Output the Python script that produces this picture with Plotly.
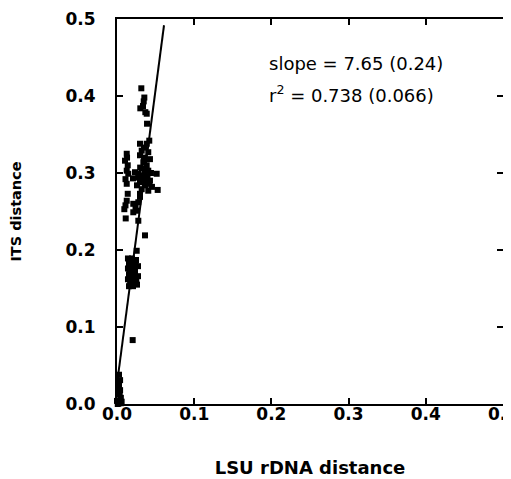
import plotly.graph_objects as go

# LSU rDNA distance (x) and ITS distance (y) for each pairwise comparison
lsu = [
    0.0315, 0.0354, 0.0346, 0.0337, 0.0302, 0.0367, 0.0385, 0.0389, 0.0418,
    0.0126, 0.0104, 0.0139, 0.0126, 0.0146, 0.0126, 0.0139, 0.0110, 0.0130,
    0.0298, 0.0385, 0.0320, 0.0405, 0.0298, 0.0427, 0.0341, 0.0385, 0.0405,
    0.0233, 0.0276, 0.0341, 0.0385, 0.0298, 0.0363, 0.0320, 0.0298, 0.0405,
    0.0514, 0.0527, 0.0350, 0.0324, 0.0427, 0.0259, 0.0440, 0.0207, 0.0453,
    0.0310, 0.0360, 0.0395, 0.0330, 0.0280, 0.0370, 0.0350, 0.0415, 0.0300,
    0.0126, 0.0095, 0.0113, 0.0211, 0.0276, 0.0298, 0.0255, 0.0211, 0.0276,
    0.0363, 0.0255, 0.0110, 0.0240,
    0.0142, 0.0194, 0.0246, 0.0155, 0.0220, 0.0272, 0.0142, 0.0181, 0.0233,
    0.0155, 0.0207, 0.0272, 0.0142, 0.0181, 0.0233, 0.0155, 0.0207, 0.0259,
    0.0168, 0.0200, 0.0240, 0.0160, 0.0210, 0.0250, 0.0170, 0.0220,
    0.0203,
    0.0026, 0.0040, 0.0026, 0.0040, 0.0013, 0.0050, 0.0000, 0.0026, 0.0050,
    0.0010, 0.0060, 0.0035, 0.0015,
]
its = [
    0.410, 0.398, 0.393, 0.387, 0.384, 0.379, 0.377, 0.364, 0.342,
    0.325, 0.316, 0.310, 0.303, 0.299, 0.286, 0.273, 0.292, 0.320,
    0.338, 0.338, 0.329, 0.327, 0.323, 0.318, 0.314, 0.310, 0.303,
    0.301, 0.299, 0.297, 0.292, 0.288, 0.286, 0.279, 0.273, 0.277,
    0.299, 0.278, 0.333, 0.306, 0.290, 0.284, 0.300, 0.293, 0.282,
    0.295, 0.302, 0.296, 0.291, 0.294, 0.284, 0.320, 0.286, 0.307,
    0.264, 0.253, 0.241, 0.260, 0.262, 0.269, 0.251, 0.249, 0.238,
    0.219, 0.199, 0.258, 0.256,
    0.189, 0.189, 0.187, 0.183, 0.180, 0.179, 0.176, 0.174, 0.172,
    0.168, 0.166, 0.166, 0.162, 0.159, 0.157, 0.153, 0.153, 0.155,
    0.185, 0.178, 0.183, 0.171, 0.170, 0.161, 0.158, 0.163,
    0.083,
    0.038, 0.031, 0.025, 0.018, 0.012, 0.008, 0.004, 0.001, 0.001,
    0.000, 0.003, 0.015, 0.022,
]

# regression line
slope = 7.65
intercept = 0.026
line_x = [0.0, 0.0609]
line_y = [intercept + slope * v for v in line_x]

tick_vals = [0.0, 0.1, 0.2, 0.3, 0.4, 0.5]
tick_text = ["0.0", "0.1", "0.2", "0.3", "0.4", "0.5"]

FONT = "DejaVu Sans, Liberation Sans, Arial, sans-serif"

fig = go.Figure()
fig.add_trace(go.Scatter(
    x=lsu, y=its, mode="markers",
    marker=dict(symbol="square", size=6, color="black", line=dict(width=0)),
    showlegend=False, cliponaxis=False,
))
fig.add_trace(go.Scatter(
    x=line_x, y=line_y, mode="lines",
    line=dict(color="black", width=2),
    showlegend=False,
))

axis_common = dict(
    range=[0, 0.5], tickvals=tick_vals, ticktext=tick_text,
    showgrid=False, zeroline=False, showline=True, linecolor="black",
    linewidth=2, mirror="ticks", ticks="inside", ticklen=6, tickwidth=1.5,
    tickcolor="black", automargin=False, ticklabeloverflow="allow",
    tickfont=dict(family=FONT, size=17, color="black", weight="bold"),
)

fig.update_xaxes(**axis_common,
                 title=dict(text="LSU rDNA distance", standoff=38,
                            font=dict(family=FONT, size=18, color="black", weight="bold")),
                 ticklabelstandoff=-6)
fig.update_yaxes(**axis_common,
                 title=dict(text="ITS distance", standoff=42,
                            font=dict(family=FONT, size=14.5, color="black", weight="bold")),
                 ticklabelstandoff=16)

fig.add_annotation(x=0.1956, y=(404 - 63) / 772, xref="x", yref="y",
                   text="slope = 7.65 (0.24)", showarrow=False,
                   xanchor="left", yanchor="middle", borderpad=0,
                   font=dict(family=FONT, size=18, color="black"))
fig.add_annotation(x=0.1956, y=(404 - 93) / 772, xref="x", yref="y",
                   text="r<sup>2</sup> = 0.738 (0.066)", showarrow=False,
                   xanchor="left", yanchor="middle", borderpad=0,
                   font=dict(family=FONT, size=18, color="black"))

# the page body adds an 8px margin, so the figure is shrunk by that amount
fig.update_layout(
    width=503, height=471,
    margin=dict(l=109, r=8, t=11, b=75, pad=0),
    plot_bgcolor="white", paper_bgcolor="white",
)

fig.write_html("out.html")
